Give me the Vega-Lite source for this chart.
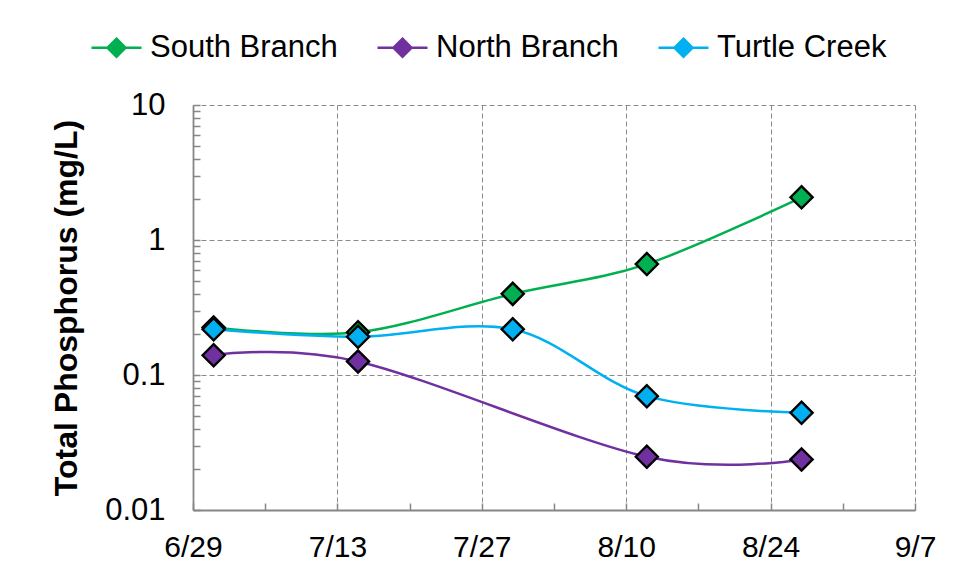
{
  "$schema": "https://vega.github.io/schema/vega-lite/v6.json",
  "width": 722,
  "height": 405,
  "autosize": "none",
  "padding": {"left": 193, "top": 105, "right": 41, "bottom": 72},
  "background": "white",
  "config": {"view": {"stroke": null}, "font": "Liberation Sans"},
  "data": {
    "values": [
      {"site": "South Branch", "date": "2012-07-01", "tp": 0.225},
      {"site": "South Branch", "date": "2012-07-15", "tp": 0.207},
      {"site": "South Branch", "date": "2012-07-30", "tp": 0.399},
      {"site": "South Branch", "date": "2012-08-12", "tp": 0.663},
      {"site": "South Branch", "date": "2012-08-27", "tp": 2.07},
      {"site": "North Branch", "date": "2012-07-01", "tp": 0.140},
      {"site": "North Branch", "date": "2012-07-15", "tp": 0.126},
      {"site": "North Branch", "date": "2012-08-12", "tp": 0.0248},
      {"site": "North Branch", "date": "2012-08-27", "tp": 0.0237},
      {"site": "Turtle Creek", "date": "2012-07-01", "tp": 0.218},
      {"site": "Turtle Creek", "date": "2012-07-15", "tp": 0.192},
      {"site": "Turtle Creek", "date": "2012-07-30", "tp": 0.218},
      {"site": "Turtle Creek", "date": "2012-08-12", "tp": 0.0697},
      {"site": "Turtle Creek", "date": "2012-08-27", "tp": 0.0525}
    ]
  },
  "encoding": {
    "x": {
      "field": "date",
      "type": "temporal",
      "scale": {
        "type": "utc",
        "domain": [
          {"year": 2012, "month": 6, "date": 29, "utc": true},
          {"year": 2012, "month": 9, "date": 7, "utc": true}
        ]
      },
      "axis": {
        "title": null,
        "values": [
          {"year": 2012, "month": 6, "date": 29, "utc": true},
          {"year": 2012, "month": 7, "date": 6, "utc": true},
          {"year": 2012, "month": 7, "date": 13, "utc": true},
          {"year": 2012, "month": 7, "date": 20, "utc": true},
          {"year": 2012, "month": 7, "date": 27, "utc": true},
          {"year": 2012, "month": 8, "date": 3, "utc": true},
          {"year": 2012, "month": 8, "date": 10, "utc": true},
          {"year": 2012, "month": 8, "date": 17, "utc": true},
          {"year": 2012, "month": 8, "date": 24, "utc": true},
          {"year": 2012, "month": 8, "date": 31, "utc": true},
          {"year": 2012, "month": 9, "date": 7, "utc": true}
        ],
        "labelExpr": "round((datum.value - utc(2012,5,29))/86400000) % 14 === 0 ? utcFormat(datum.value, '%-m/%-d') : ''",
        "labelFontSize": 30,
        "labelColor": "black",
        "labelPadding": 29,
        "labelFlush": false,
        "labelOverlap": false,
        "labelLimit": 0,
        "tickSize": -7,
        "tickColor": "#868686",
        "tickWidth": 1.5,
        "domainColor": "#868686",
        "domainWidth": 1.8,
        "grid": true,
        "gridColor": "#8a8a8a",
        "gridDash": [5, 3],
        "gridWidth": 1,
        "gridOpacity": {"condition": {"test": "round((datum.value - utc(2012,5,29))/86400000) % 14 === 0", "value": 1}, "value": 0}
      }
    },
    "y": {
      "field": "tp",
      "type": "quantitative",
      "scale": {"type": "log", "domain": [0.01, 10]},
      "axis": {
        "title": "Total Phosphorus (mg/L)",
        "titleFontSize": 32,
        "titleFontWeight": "bold",
        "titleColor": "black",
        "titlePadding": 21,
        "values": [0.01, 0.02, 0.03, 0.04, 0.05, 0.06, 0.07, 0.08, 0.09, 0.1, 0.2, 0.3, 0.4, 0.5, 0.6, 0.7, 0.8, 0.9, 1, 2, 3, 4, 5, 6, 7, 8, 9, 10],
        "labelExpr": "indexof([0.01, 0.1, 1, 10], datum.value) >= 0 ? format(datum.value, '~g') : ''",
        "labelFontSize": 31,
        "labelColor": "black",
        "labelPadding": 35,
        "labelFlush": false,
        "labelOverlap": false,
        "tickSize": -7,
        "tickColor": "#868686",
        "tickWidth": 1.5,
        "domainColor": "#868686",
        "domainWidth": 1.8,
        "grid": true,
        "gridColor": "#8a8a8a",
        "gridDash": [5, 3],
        "gridWidth": 1,
        "gridOpacity": {"condition": {"test": "indexof([0.01, 0.1, 1, 10], datum.value) >= 0", "value": 1}, "value": 0}
      }
    },
    "color": {
      "field": "site",
      "type": "nominal",
      "scale": {
        "domain": ["South Branch", "North Branch", "Turtle Creek"],
        "range": ["#00B050", "#7030A0", "#00B0F0"]
      },
      "legend": {
        "title": null,
        "orient": "none",
        "direction": "horizontal",
        "legendX": -103,
        "legendY": -84,
        "padding": 0,
        "labelFontSize": 31,
        "labelColor": "black",
        "labelOffset": 7,
        "labelLimit": 0,
        "columnPadding": 34,
        "symbolType": "M-1,0H-0.36M0.36,0H1M0,-0.36L0.36,0L0,0.36L-0.36,0Z",
        "symbolSize": 2500,
        "symbolStrokeWidth": 2.5,
        "symbolOpacity": 1,
        "encode": {
          "symbols": {
            "update": {
              "fill": {"scale": "color", "field": "value"},
              "stroke": {"scale": "color", "field": "value"},
              "opacity": {"value": 1}
            }
          }
        }
      }
    }
  },
  "layer": [
    {"mark": {"type": "line", "interpolate": "cardinal", "tension": 0, "strokeWidth": 2.5}},
    {"mark": {"type": "point", "shape": "diamond", "filled": true, "size": 490, "stroke": "black", "strokeWidth": 2.4, "opacity": 1}}
  ]
}
